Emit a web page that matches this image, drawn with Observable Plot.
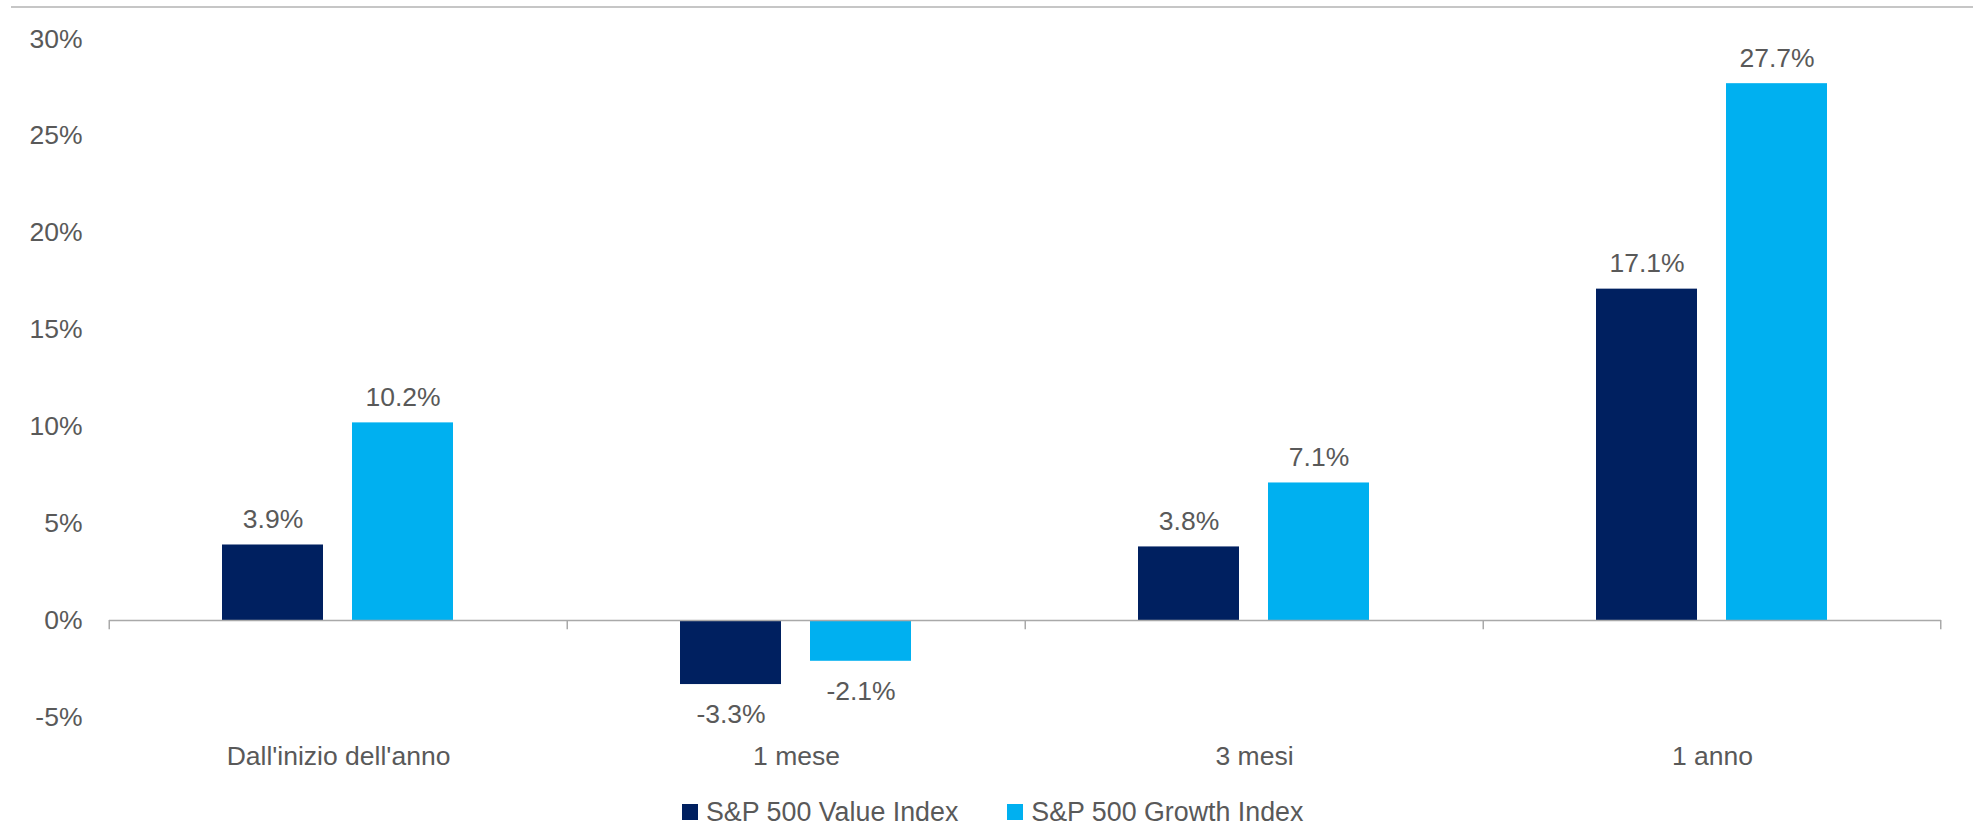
<!DOCTYPE html>
<html><head><meta charset="utf-8">
<script src="https://cdn.jsdelivr.net/npm/d3@7"></script>
<script src="https://cdn.jsdelivr.net/npm/@observablehq/plot@0.6"></script>
<style>
body{margin:0;background:#fff;overflow:hidden;font-family:"Liberation Sans",Arial,sans-serif;}
#top-rule{position:absolute;left:11px;right:0;top:6px;height:2px;background:#c6c6c6;z-index:2;}
#chart{position:absolute;left:0;top:0;}
#legend{position:absolute;top:796px;left:682px;display:flex;align-items:center;font-size:26.8px;color:#595959;line-height:32px;white-space:nowrap;}
.sw{display:flex;align-items:center;margin-right:49px;}
.sw i{display:inline-block;width:16px;height:16px;margin-right:8px;}
</style></head><body>
<div id="chart"></div><div id="top-rule"></div><div id="legend"></div>
<script>
const categories = ["Dall'inizio dell'anno", "1 mese", "3 mesi", "1 anno"];
const seriesNames = ["S&P 500 Value Index", "S&P 500 Growth Index"];
const valueIndex = [3.9, -3.3, 3.8, 17.1];
const growthIndex = [10.2, -2.1, 7.1, 27.7];
const seriesColors = ["#002060", "#00B0F0"];
const yTicks = [-5, 0, 5, 10, 15, 20, 25, 30];

const rows = categories.flatMap((c, i) => [
  {category: c, series: seriesNames[0], value: valueIndex[i]},
  {category: c, series: seriesNames[1], value: growthIndex[i]}
]);

const W = 1973, H = 790, mL = 108, mR = 31, mT = 38.6, mB = 73;
const facetW = (W - mL - mR) / categories.length;
const barW = 102, gap = 29, step = barW + gap;
const pInner = gap / step;
const pOuter = (facetW - 2 * barW - gap) / (2 * step);
const tickDx = facetW / 2 - gap / 2 - barW / 2;
const FS = 26.5;
const axisGray = "#a9a9a9";
const fmt = d => d.toFixed(1) + "%";

const chart = Plot.plot({
  width: W, height: H,
  marginLeft: mL, marginRight: mR, marginTop: mT, marginBottom: mB,
  style: {fontFamily: '"Liberation Sans", Arial, sans-serif', fontSize: FS + "px", color: "#595959", background: "white", overflow: "visible"},
  fx: {domain: categories, padding: 0, label: null, axis: null},
  x: {domain: seriesNames, paddingInner: pInner, paddingOuter: pOuter, axis: null},
  y: {domain: [-5, 30], label: null},
  color: {domain: seriesNames, range: seriesColors},
  marks: [
    Plot.barY(rows, {fx: "category", x: "series", y: "value", fill: "series"}),
    Plot.ruleY([0], {stroke: axisGray, strokeWidth: 1.5}),
    Plot.ruleX(categories.map(c => ({category: c, series: seriesNames[0]})),
      {fx: "category", x: "series", y1: 0, y2: -0.47, dx: -tickDx, stroke: axisGray, strokeWidth: 1.5}),
    Plot.ruleX([{category: categories[categories.length - 1], series: seriesNames[1]}],
      {fx: "category", x: "series", y1: 0, y2: -0.47, dx: tickDx, stroke: axisGray, strokeWidth: 1.5}),
    Plot.text(rows.filter(d => d.value >= 0),
      {fx: "category", x: "series", y: "value", text: d => fmt(d.value), lineAnchor: "bottom", dy: -17, fontSize: FS, fill: "#595959"}),
    Plot.text(rows.filter(d => d.value < 0),
      {fx: "category", x: "series", y: "value", text: d => fmt(d.value), lineAnchor: "top", dy: 20, fontSize: FS, fill: "#595959"}),
    Plot.axisY({ticks: yTicks, tickSize: 0, tickPadding: 27, tickFormat: d => d + "%", fontSize: FS, label: null}),
    Plot.axisFx({anchor: "bottom", tickSize: 0, tickPadding: 28.5, label: null, fontSize: FS})
  ]
});
document.getElementById("chart").appendChild(chart);

const legend = document.getElementById("legend");
seriesNames.forEach((s, i) => {
  const sw = document.createElement("span");
  sw.className = "sw";
  const box = document.createElement("i");
  box.style.background = seriesColors[i];
  sw.appendChild(box);
  sw.appendChild(document.createTextNode(s));
  legend.appendChild(sw);
});
</script>
</body></html>
